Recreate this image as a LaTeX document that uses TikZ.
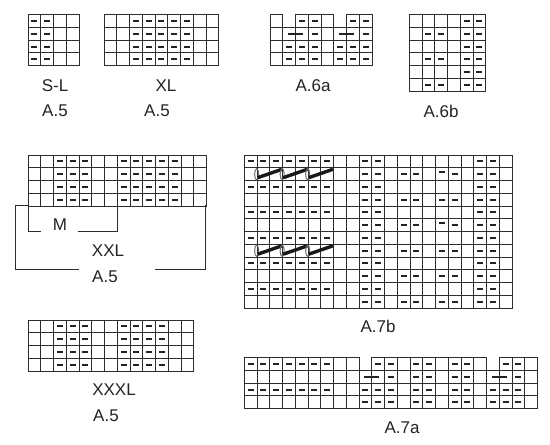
\documentclass[tikz,border=0pt]{standalone}
\usepackage{fontspec}
\setmainfont{Liberation Sans}
\definecolor{gridgrey}{RGB}{45,45,45}
\definecolor{inkgrey}{RGB}{35,35,35}
\newcommand{\chartgrid}[3]{%
  \foreach \c in {0,...,#1} \draw[gridline] (\c,0) -- (\c,#2);
  \foreach \r in {1,...,#2} \draw[gridline] (0,\r) -- (#1,\r);
  \foreach \a/\b in {#3} \draw[gridline] (\a,0) -- (\b,0);
}
\newcommand{\purls}[2]{%
  \foreach \c in {#1} \foreach \r in {#2}
    \draw[purl] (\c+.27,\r+.5) -- (\c+.73,\r+.5);
}
\newcommand{\longpurl}[2]{\draw[lpurl] (#1-.6,#2+.5) -- (#1+.6,#2+.5);}
\newcommand{\cablerow}[1]{%
  \foreach \c in {1,3,5} {
    \draw[ring] (\c-.03,#1+.51) ellipse [x radius=.16, y radius=.44];
    \draw[cable] (\c+.05,#1+.78) -- (\c+1.95,#1+.12);
  }
}
\begin{document}
\begin{tikzpicture}[
  x=1pt, y=-1pt,
  chart/.style={x=12.75pt, y=-12.75pt},
  gridline/.style={draw=gridgrey, line width=1pt, line cap=rect},
  purl/.style={draw=inkgrey, line width=2pt},
  lpurl/.style={draw=inkgrey, line width=2pt},
  ring/.style={draw=gridgrey!70, line width=1pt},
  cable/.style={draw=black!90, line width=3.4pt},
  lbl/.style={font=\fontsize{17}{17}\selectfont, text=inkgrey, inner sep=0pt},
]
\useasboundingbox (0,0) rectangle (550,445);

% ---- top row: A.5 S-L and XL ----
\begin{scope}[shift={(28,14.7)}, chart]
  \chartgrid{4}{4}{0/4}
  \purls{0,1}{0,1,2,3}
\end{scope}
\begin{scope}[shift={(104,14.7)}, chart]
  \chartgrid{9}{4}{0/9}
  \purls{2,3,4,5,6}{0,1,2,3}
\end{scope}

% ---- A.6a, two open cells on top ----
\begin{scope}[shift={(270,14.7)}, chart]
  \chartgrid{8}{4}{0/1,2/5,6/8}
  \purls{2,3,6,7}{0}
  \longpurl{2}{1}
  \longpurl{6}{1}
  \purls{3,7}{1}
  \purls{1,2,3,5,6,7}{2,3}
\end{scope}

% ---- A.6b ----
\begin{scope}[shift={(409.3,14.7)}, chart]
  \chartgrid{6}{6}{0/6}
  \purls{4,5}{0,1,2,3,4,5}
  \purls{1,2}{1,3,5}
\end{scope}

% ---- XXL ----
\begin{scope}[shift={(28,155)}, chart]
  \chartgrid{14}{4}{0/14}
  \purls{2,3,4,7,8,9,10,11}{0,1,2,3}
\end{scope}

% ---- XXXL ----
\begin{scope}[shift={(28,320)}, chart]
  \chartgrid{13}{4}{0/13}
  \purls{2,3,4,7,8,9,10}{0,1,2,3}
\end{scope}

% ---- A.7b ----
\begin{scope}[shift={(244.3,155)}, chart]
  \chartgrid{21}{12}{0/21}
  \purls{0,1,2,3,4,5,6}{0,2,4,6,8,10}
  \purls{9,10,18,19}{0,1,2,3,4,5,6,7,8,9,10,11}
  \purls{12,13,16}{1,3,5,7,9,11}
  \purls{15}{3,7,9,11}
  \draw[purl] (15.27,1.36) -- (15.73,1.36);
  \draw[purl] (15.27,5.36) -- (15.73,5.36);
  \cablerow{1}
  \cablerow{7}
\end{scope}

% ---- A.7a, continues past A.7b ----
\begin{scope}[shift={(244.3,357.7)}, chart]
  \chartgrid{23}{4}{0/9,10/19,20/23}
  \purls{0,1,2,3,4,5,6}{0,2}
  \purls{10,11,20,21}{0}
  \longpurl{10}{1}
  \longpurl{20}{1}
  \purls{11,21}{1}
  \purls{9,10,11,19,20,21}{2,3}
  \purls{13,14,16,17}{0,1,2,3}
\end{scope}

% ---- brackets round M and XXL ----
\draw[gridline] (28,205.7) -- (15,205.7) -- (15,269) -- (78.7,269);
\draw[gridline] (155,269) -- (205.5,269) -- (205.5,205.7);
\draw[gridline] (28,205.7) -- (28,231) -- (40.7,231);
\draw[gridline] (78.7,231) -- (117.3,231) -- (117.3,205.7);

% ---- labels ----
\node[lbl] (sl) at (55,86) {S-L};
\node[lbl] (sla) at (55,111) {A.5};
\node[lbl] (xl) at (166,86) {XL};
\node[lbl] (xla) at (157,111) {A.5};
\node[lbl] (a6a) at (313,86) {A.6a};
\node[lbl] (a6b) at (441,111) {A.6b};
\node[lbl] (m) at (60,225) {M};
\node[lbl] (xxl) at (108,251) {XXL};
\node[lbl] (xxla) at (105,277) {A.5};
\node[lbl] (xxxl) at (114,390) {XXXL};
\node[lbl] (xxxla) at (106,416) {A.5};
\node[lbl] (a7b) at (378,326) {A.7b};
\node[lbl] (a7a) at (402,428) {A.7a};

\end{tikzpicture}
\end{document}
